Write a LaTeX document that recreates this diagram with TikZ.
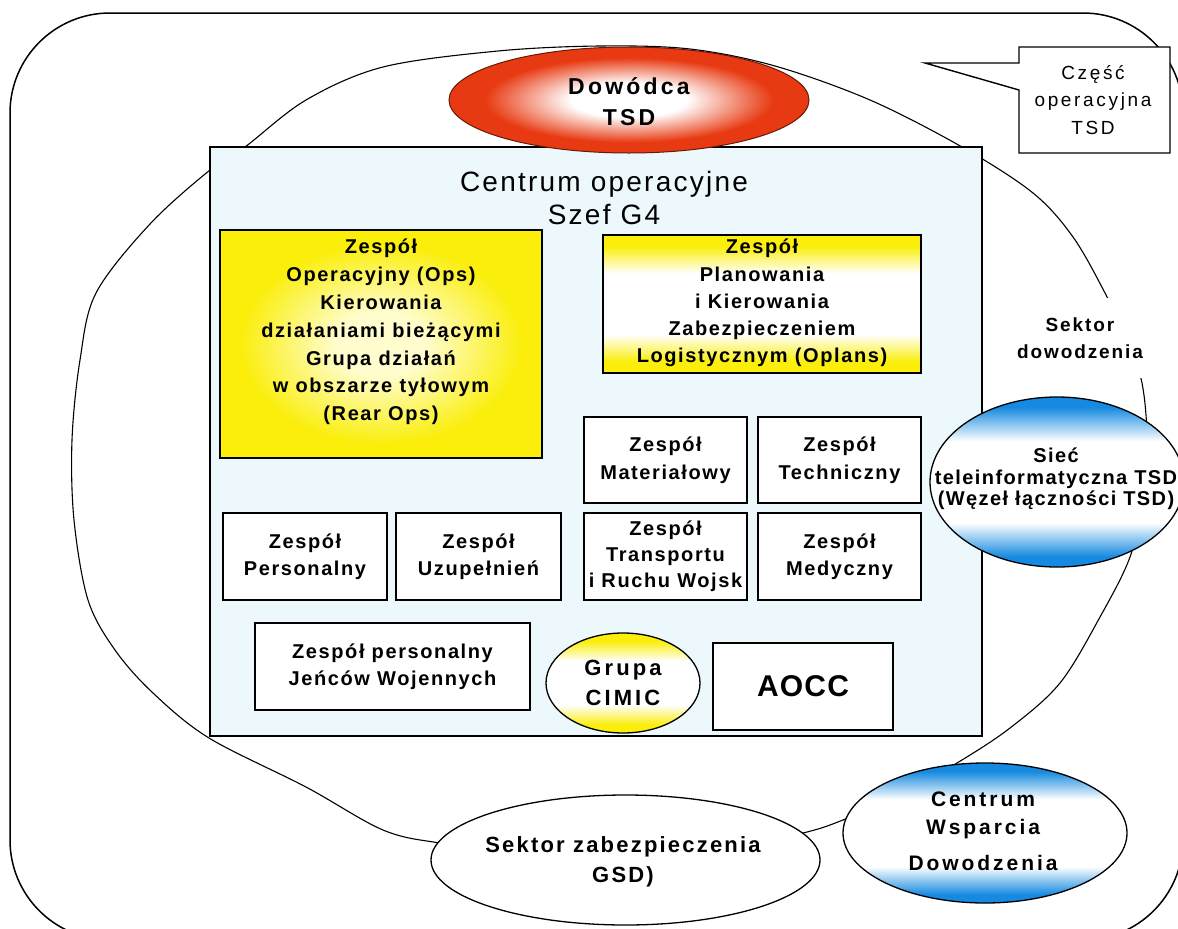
\documentclass[tikz,border=0pt]{standalone}
\usepackage{fontspec}
\setmainfont{Liberation Sans}
\newfontfamily\trackedfont[LetterSpace=8]{Liberation Sans}
\newfontfamily\widetrackfont[LetterSpace=14]{Liberation Sans}
\newfontfamily\titlefont[LetterSpace=8]{Liberation Sans}
\newfontfamily\netfont[LetterSpace=7]{Liberation Sans}
\usetikzlibrary{shapes.geometric}

\definecolor{tsdyellow}{RGB}{250,238,10}
\definecolor{paleyellow}{RGB}{255,253,205}
\definecolor{tsdred}{RGB}{232,58,18}
\definecolor{tsdblue}{RGB}{22,138,224}
\definecolor{opsbg}{RGB}{236,248,252}

% band and glow shadings (the path box maps onto the central 50bp)
\pgfdeclareverticalshading{yellowbands}{100bp}{color(0bp)=(tsdyellow); color(29bp)=(tsdyellow); color(39bp)=(white); color(61bp)=(white); color(71bp)=(tsdyellow); color(100bp)=(tsdyellow)}
\pgfdeclareverticalshading{bluebands}{100bp}{color(0bp)=(tsdblue); color(28bp)=(tsdblue); color(38bp)=(white); color(62bp)=(white); color(72bp)=(tsdblue); color(100bp)=(tsdblue)}
\pgfdeclareradialshading{redglow}{\pgfpoint{0bp}{0bp}}{color(0bp)=(white); color(8bp)=(white); color(20bp)=(tsdred); color(50bp)=(tsdred)}
\pgfdeclareradialshading{yellowglow}{\pgfpoint{0bp}{0bp}}{color(0bp)=(paleyellow); color(7bp)=(paleyellow); color(22bp)=(tsdyellow); color(50bp)=(tsdyellow)}

\begin{document}
\begin{tikzpicture}[x=1pt,y=-1pt,
  every node/.style={inner sep=0pt},
  team/.style={draw=black, line width=1.5pt, fill=white, rectangle},
  teamtext/.style={align=center, font={\trackedfont\bfseries\fontsize{20}{27.5}\selectfont}},
  oval/.style={draw=black, line width=1.3pt, ellipse},
  outline/.style={draw=black, line width=1.1pt},
  frameline/.style={draw=black, line width=1.5pt, rounded corners=100pt}]

\useasboundingbox (0,0) rectangle (1178,929);
\clip (0,0) rectangle (1178,929);
\fill[white] (0,0) rectangle (1178,929);

% outer frame of the command post
\draw[frameline] (10,13) rectangle (1183,940);

% command sector outline
\draw[outline] plot[smooth cycle, tension=0.55] coordinates {
  (96,293) (150,224) (210,170) (245,147) (306,100) (383,67) (498,51)
  (600,46) (690,49) (775,66) (870,100) (962,147) (1033,193) (1073,237)
  (1105,293) (1127,340) (1142,383) (1147,440) (1142,500) (1130,557)
  (1100,617) (1060,683) (1010,728) (957,763) (900,795) (843,820)
  (803,833) (720,850) (626,855) (520,852) (440,843) (383,830) (306,787)
  (209,738) (153,693) (115,650) (88,600) (74,520) (72,440) (80,360)};

% operations centre
\node[team, fill=opsbg, minimum width=772pt, minimum height=589pt] (centrum) at (596,441.5) {};
\node[align=center, font={\titlefont\fontsize{28}{33}\selectfont}] (centrumt) at (604,198) {Centrum operacyjne\\Szef G4};

\node[team, shade, shading=yellowglow, minimum width=322pt, minimum height=228pt] (ops) at (381,344) {};
\node[teamtext, font={\trackedfont\bfseries\fontsize{20}{27.8}\selectfont}] (opst) at (381,332)
  {Zespół\\Operacyjny (Ops)\\Kierowania\\działaniami bieżącymi\\Grupa działań\\w obszarze tyłowym\\(Rear Ops)};

\node[team, shade, shading=yellowbands, minimum width=318pt, minimum height=138pt] (plan) at (762,304) {};
\node[teamtext, font={\trackedfont\bfseries\fontsize{20}{27.2}\selectfont}] (plant) at (762,303)
  {Zespół\\Planowania\\i Kierowania\\Zabezpieczeniem\\Logistycznym (Oplans)};

\node[team, teamtext, minimum width=163pt, minimum height=86pt] (mat) at (665.5,460) {Zespół\\Materiałowy};
\node[team, teamtext, minimum width=163pt, minimum height=86pt] (tech) at (839.5,460) {Zespół\\Techniczny};
\node[team, teamtext, minimum width=164pt, minimum height=87pt] (pers) at (305,556.5) {Zespół\\Personalny};
\node[team, teamtext, minimum width=165pt, minimum height=87pt] (uzup) at (478.5,556.5) {Zespół\\Uzupełnień};
\node[team, teamtext, font={\trackedfont\bfseries\fontsize{20}{26}\selectfont}, minimum width=163pt, minimum height=87pt] (trans) at (665.5,556.5) {Zespół\\Transportu\\i Ruchu Wojsk};
\node[team, teamtext, minimum width=163pt, minimum height=87pt] (med) at (839.5,556.5) {Zespół\\Medyczny};
\node[team, teamtext, minimum width=275pt, minimum height=87pt] (jen) at (392.5,666.5) {Zespół personalny\\Jeńców Wojennych};
\node[team, font={\fontspec{Liberation Sans}[LetterSpace=4]\bfseries\fontsize{30}{34}\selectfont}, minimum width=180pt, minimum height=87pt] (aocc) at (803,686.5) {AOCC};

\node[oval, shade, shading=yellowbands, minimum width=154pt, minimum height=100pt] (cimic) at (623,683) {};
\node[align=center, font={\widetrackfont\bfseries\fontsize{22}{30}\selectfont}] (cimict) at (623,683) {Grupa\\CIMIC};

% commander
\node[oval, draw=black!55!tsdred, line width=1pt, shade, shading=redglow, minimum width=360pt, minimum height=106pt] (dow) at (629,100) {};
\node[align=center, font={\widetrackfont\bfseries\fontsize{23}{31}\selectfont}] (dowt) at (629,102) {Dowódca\\TSD};

% network node
\node[oval, shade, shading=bluebands, minimum width=254pt, minimum height=170pt] (siec) at (1057,482) {};
\node[align=center, font={\netfont\bfseries\fontsize{20}{21.5}\selectfont}] (siect) at (1056,479)
  {Sieć\\teleinformatyczna TSD\\(Węzeł łączności TSD)};

% command support centre
\node[oval, shade, shading=bluebands, minimum width=284pt, minimum height=140pt] (cws) at (985,833) {};
\node[align=center, font={\widetrackfont\bfseries\fontsize{21}{28}\selectfont}] (cwst) at (983,831) {Centrum\\Wsparcia\\[8pt]Dowodzenia};

% support sector
\node[oval, fill=white, minimum width=389pt, minimum height=130pt] (szab) at (625.5,860) {};
\node[align=center, font={\fontspec{Liberation Sans}[LetterSpace=10]\bfseries\fontsize{22}{30}\selectfont}] (szabt) at (623,862) {Sektor zabezpieczenia\\GSD)};

% sector label breaking the outline
\node[fill=white, inner xsep=3pt, inner ysep=20pt, align=center, font={\fontspec{Liberation Sans}[LetterSpace=10]\bfseries\fontsize{19}{27}\selectfont}] (sdow) at (1080,338) {Sektor\\dowodzenia};

% callout for the operational part
\draw[line width=1.4pt, fill=white] (1019,47) -- (1170,47) -- (1170,153) -- (1019,153) -- (1019,90) -- (925,63) -- (1019,63) -- cycle;
\node[align=center, font={\widetrackfont\fontsize{19}{27.5}\selectfont}] (czesc) at (1093,100) {Część\\operacyjna\\TSD};

\end{tikzpicture}
\end{document}
